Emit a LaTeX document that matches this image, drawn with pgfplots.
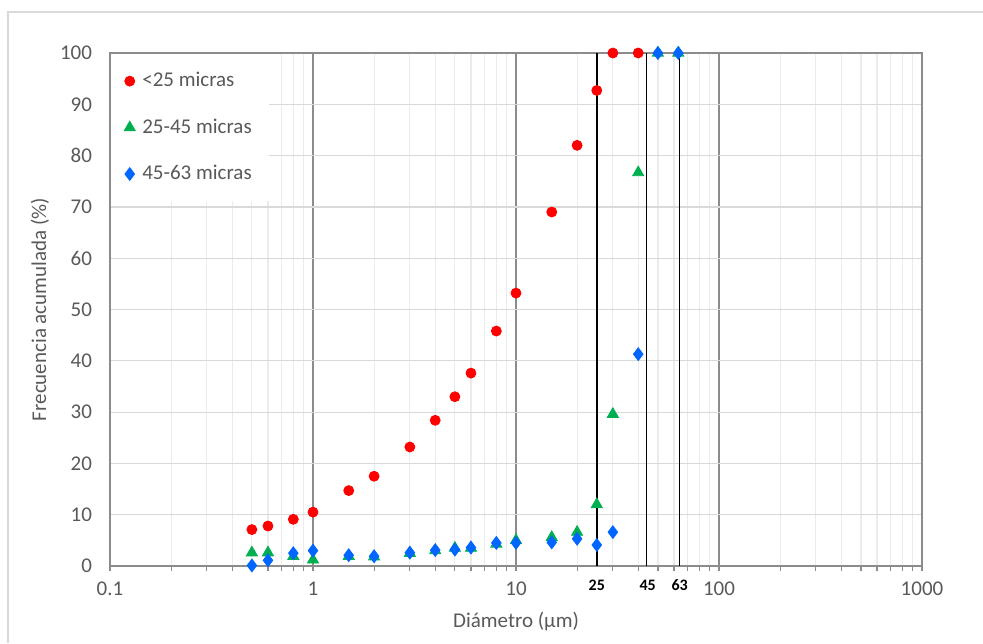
\documentclass[border=0pt]{standalone}
\usepackage{pgfplots}
\pgfplotsset{compat=1.18}
\usepackage{fontspec}
\setmainfont{Carlito}
\definecolor{tcol}{HTML}{595959}
\definecolor{axcol}{HTML}{8C8C8C}
\definecolor{majg}{HTML}{8C8C8C}
\definecolor{ming}{HTML}{EBEBEB}
\definecolor{yg}{HTML}{D9D9D9}
\definecolor{cred}{HTML}{FF0000}
\definecolor{cgreen}{HTML}{00B050}
\definecolor{cblue}{HTML}{0066FF}
\begin{document}
\begin{tikzpicture}
\path[use as bounding box] (-55pt,-38.5pt) rectangle (436.5pt,283pt);
\draw[yg,line width=0.6pt] (-51pt,-38.5pt) -- (-51pt,277pt) -- (436.5pt,277pt);
\begin{axis}[
  at={(0pt,0pt)}, anchor=south west,
  scale only axis, width=406pt, height=256.5pt,
  xmode=log, xmin=0.1, xmax=1000, ymin=0, ymax=100,
  xtick={0.1,1,10,100,1000}, xticklabels={0.1,1,10,100,1000},
  ytick={0,10,...,100},
  font=\fontsize{10.5}{12}\selectfont,
  /pgf/number format/assume math mode=true,
  tick label style={text=tcol},
  axis line style={axcol, line width=0.6pt},
  xmajorgrids, xminorgrids, ymajorgrids,
  major x grid style={majg, line width=0.6pt},
  minor x grid style={ming, line width=0.6pt},
  major y grid style={yg, line width=0.6pt},
  x tick style={axcol, line width=0.6pt},
  tick align=outside,
  major tick length=2.5pt, minor tick length=2.5pt,
  xtick pos=bottom, ytick pos=left,
  y tick style={draw=none},
  y tick label style={xshift=-3pt},
  x tick label style={yshift=-2pt},
  xlabel={Diámetro (µm)},
  ylabel={Frecuencia acumulada (\%)},
  label style={text=tcol},
  xlabel style={at={(axis description cs:0.5,0)}, anchor=center, yshift=-28pt},
  ylabel style={at={(axis description cs:0,0.5)}, anchor=center, xshift=0pt, yshift=35pt},
  legend style={at={(axis description cs:0.001,0.998)}, anchor=north west, draw=none, fill=white,
     inner xsep=6.5pt, inner ysep=7pt, row sep=10.5pt, font=\fontsize{10.5}{12}\selectfont, text=tcol,
     /tikz/every odd column/.append style={column sep=1.5pt}},
  legend cell align=left,
  legend image code/.code={\draw[#1] plot coordinates {(0pt,0pt)};},
  clip=false,
]
\addplot[only marks, mark=*, mark size=2.5pt, color=cred] coordinates {
(0.5,7.1)(0.6,7.8)(0.8,9.1)(1,10.5)(1.5,14.7)(2,17.5)(3,23.2)(4,28.4)(5,33.0)(6,37.6)(8,45.8)(10,53.2)(15,69.0)(20,82.0)(25,92.7)(30,100)(40,100)};
\addlegendentry{<25 micras}
\addplot[only marks, mark=triangle*, mark size=3.2pt, color=cgreen] coordinates {
(0.5,2.6)(0.6,2.6)(0.8,1.9)(1,1.2)(1.5,1.9)(2,1.8)(3,2.5)(4,3.0)(5,3.5)(6,3.5)(8,4.3)(10,5.0)(15,5.6)(20,6.6)(25,12.0)(30,29.6)(40,76.7)(50,100)(63,100)};
\addlegendentry{25-45 micras}
\addplot[only marks, mark=diamond*, mark size=3.2pt, color=cblue] coordinates {
(0.5,0.1)(0.6,1.1)(0.8,2.5)(1,3.0)(1.5,2.1)(2,1.9)(3,2.6)(4,3.1)(5,3.2)(6,3.6)(8,4.5)(10,4.5)(15,4.6)(20,5.3)(25,4.1)(30,6.6)(40,41.3)(50,100)(63,100)};
\addlegendentry{45-63 micras}
\addplot[black, line width=0.8pt, forget plot] coordinates {(25,0)(25,100)};
\addplot[black, line width=0.8pt, forget plot] coordinates {(44,0)(44,100)};
\addplot[black, line width=0.8pt, forget plot] coordinates {(64,0)(64,100)};
\node[font=\fontsize{8}{9}\selectfont\bfseries, text=black] at (axis cs:25,0) [yshift=-9.5pt] {25};
\node[font=\fontsize{8}{9}\selectfont\bfseries, text=black] at (axis cs:44.5,0) [yshift=-9.5pt] {45};
\node[font=\fontsize{8}{9}\selectfont\bfseries, text=black] at (axis cs:64,0) [yshift=-9.5pt] {63};
\end{axis}
\end{tikzpicture}
\end{document}
